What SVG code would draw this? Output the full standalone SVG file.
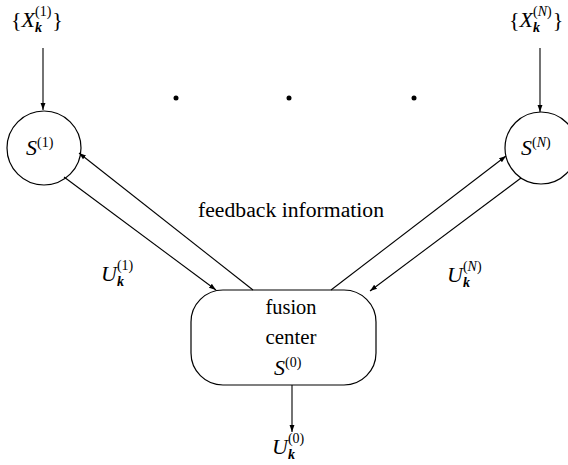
<svg xmlns="http://www.w3.org/2000/svg" width="568" height="465" viewBox="0 0 568 465">
  <style>
    text { font-family: "Liberation Serif", "DejaVu Serif", serif; fill: #000; }
    .lbl { font-size: 20px; }
    .math { font-size: 22px; }
    .it { font-style: italic; }
    .sup { font-size: 14px; }
    .sub { font-size: 14px; font-style: italic; font-weight: bold; }
    .shape { fill: #fff; stroke: #000; stroke-width: 1.2; }
    .edge { fill: none; stroke: #000; stroke-width: 1.1; marker-end: url(#arrow); }
  </style>
  <defs>
    <marker id="arrow" viewBox="0 0 10 10" refX="10" refY="5" markerWidth="7" markerHeight="7" orient="auto" markerUnits="userSpaceOnUse">
      <path d="M0,1.5 L10,5 L0,8.5 z" fill="#000"/>
    </marker>
  </defs>

  <rect width="568" height="465" fill="#fff"/>

  <!-- inputs -->
  <g id="input-1">
    <text class="math" x="11" y="27">{<tspan class="it">X</tspan><tspan class="sub" dy="5">k</tspan><tspan class="sup" dx="-7" dy="-16">(1)</tspan><tspan dy="11" dx="1">}</tspan></text>
  </g>
  <g id="input-N">
    <text class="math" x="509" y="27">{<tspan class="it">X</tspan><tspan class="sub" dy="5">k</tspan><tspan class="sup" dx="-7" dy="-16">(<tspan class="it">N</tspan>)</tspan><tspan dy="11" dx="1">}</tspan></text>
  </g>

  <!-- ellipsis dots -->
  <g id="dots">
    <circle cx="176" cy="98" r="2.5" fill="#000"/>
    <circle cx="289" cy="98" r="2.5" fill="#000"/>
    <circle cx="414" cy="98" r="2.5" fill="#000"/>
  </g>

  <!-- sensors -->
  <g id="sensor-1">
    <circle class="shape" cx="44" cy="148" r="37"/>
    <text class="math" x="26" y="155"><tspan class="it">S</tspan><tspan class="sup" dy="-8">(1)</tspan></text>
  </g>
  <g id="sensor-N">
    <circle class="shape" cx="541" cy="148" r="36"/>
    <text class="math" x="521" y="155"><tspan class="it">S</tspan><tspan class="sup" dy="-8">(<tspan class="it">N</tspan>)</tspan></text>
  </g>

  <!-- fusion center -->
  <g id="fusion-center">
    <rect class="shape" x="191" y="290" width="185" height="95" rx="32" ry="32"/>
    <text class="lbl" x="291" y="314" text-anchor="middle" textLength="51" lengthAdjust="spacingAndGlyphs">fusion</text>
    <text class="lbl" x="291" y="344" text-anchor="middle" textLength="51" lengthAdjust="spacingAndGlyphs">center</text>
    <text class="math" x="274" y="375"><tspan class="it">S</tspan><tspan class="sup" dy="-8">(0)</tspan></text>
  </g>

  <!-- connectors -->
  <g id="connectors">
    <line class="edge" x1="43" y1="48" x2="43" y2="110"/>
    <line class="edge" x1="540" y1="48" x2="540" y2="112"/>
    <line class="edge" x1="64" y1="177" x2="216" y2="290"/>
    <line class="edge" x1="253" y1="290" x2="79" y2="153"/>
    <line class="edge" x1="331" y1="290" x2="506" y2="156"/>
    <line class="edge" x1="521" y1="178" x2="370" y2="291"/>
    <line class="edge" x1="292" y1="385" x2="292" y2="432"/>
  </g>

  <!-- edge labels -->
  <g id="labels">
    <text class="lbl" x="198" y="217" textLength="186" lengthAdjust="spacingAndGlyphs">feedback information</text>
    <text class="math" x="101" y="281"><tspan class="it">U</tspan><tspan class="sub" dy="5">k</tspan><tspan class="sup" dx="-7" dy="-16">(1)</tspan></text>
    <text class="math" x="447" y="282"><tspan class="it">U</tspan><tspan class="sub" dy="5">k</tspan><tspan class="sup" dx="-7" dy="-16">(<tspan class="it">N</tspan>)</tspan></text>
    <text class="math" x="272" y="454"><tspan class="it">U</tspan><tspan class="sub" dy="5">k</tspan><tspan class="sup" dx="-7" dy="-16">(0)</tspan></text>
  </g>
</svg>
